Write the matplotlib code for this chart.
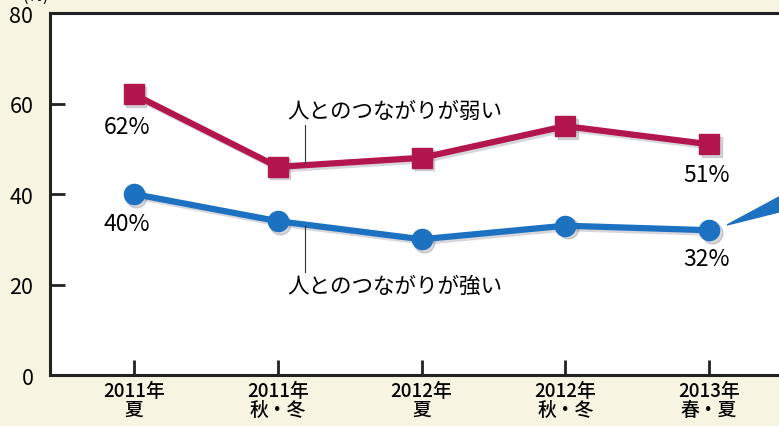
import matplotlib.pyplot as plt
import matplotlib.transforms as mtransforms
from matplotlib.patches import Polygon

plt.rcParams["font.family"] = ["Noto Sans CJK JP", "DejaVu Sans"]

periods = ["2011年\n夏", "2011年\n秋・冬", "2012年\n夏", "2012年\n秋・冬", "2013年\n春・夏"]
weak_ties = [62, 46, 48, 55, 51]
strong_ties = [40, 34, 30, 33, 32]
y_ticks = [0, 20, 40, 60, 80]

red = "#b3164c"
blue = "#1c72c1"
paper = "#f7f5e1"

fig = plt.figure(figsize=(7.79, 4.27), dpi=100, facecolor=paper)
ax = fig.add_axes([0.0642, 0.1194, 0.99, 0.8478])
ax.set_facecolor("white")

x = list(range(len(periods)))
shadow = mtransforms.offset_copy(ax.transData, fig=fig, x=2.5, y=-2.5, units="dots")

# soft drop shadows under both series
for vals, mk in [(weak_ties, "s"), (strong_ties, "o")]:
    ax.plot(x, vals, color="#8a8a9a", lw=4.5, marker=mk, ms=15, alpha=0.35,
            transform=shadow, zorder=2, solid_capstyle="round")

ax.plot(x, weak_ties, color=red, lw=4.5, marker="s", ms=15, zorder=3)
ax.plot(x, strong_ties, color=blue, lw=4.5, marker="o", ms=14.5, zorder=3)

ax.set_xlim(-0.584, 4.78)
ax.set_ylim(0, 80)
ax.set_xticks(x)
ax.set_xticklabels(periods, fontsize=13.5, linespacing=1.0, fontweight="medium")
ax.set_yticks(y_ticks)
ax.set_yticklabels([str(v) for v in y_ticks], fontsize=15.5)
ax.tick_params(axis="both", direction="in", length=11, width=2, color="#222222")
ax.tick_params(axis="x", pad=4)
ax.tick_params(axis="y", pad=12)
for side in ["left", "bottom", "top"]:
    ax.spines[side].set_linewidth(2.2)
    ax.spines[side].set_color("#222222")
ax.spines["right"].set_visible(False)

# value labels at the first and last points
ax.text(x[0] - 0.05, weak_ties[0] - 7.0, f"{weak_ties[0]}%", fontsize=16.5, ha="center", va="center")
ax.text(x[0] - 0.05, strong_ties[0] - 6.5, f"{strong_ties[0]}%", fontsize=16.5, ha="center", va="center")
ax.text(x[-1] - 0.02, weak_ties[-1] - 6.7, f"{weak_ties[-1]}%", fontsize=16.5, ha="center", va="center")
ax.text(x[-1] - 0.02, strong_ties[-1] - 6.3, f"{strong_ties[-1]}%", fontsize=16.5, ha="center", va="center")

# series names with leader lines
lx = 1.19
ax.text(1.816, 58.3, "人とのつながりが弱い", fontsize=15.5, ha="center", va="center")
ax.plot([lx, lx], [55.2, 46.8], color="#333333", lw=0.8, zorder=4)
ax.text(1.816, 19.7, "人とのつながりが強い", fontsize=15.5, ha="center", va="center")
ax.plot([lx, lx], [33.0, 22.8], color="#333333", lw=0.8, zorder=4)

# unit label sits at the very top edge of the page
ax.text(-0.68, 84.0, "(%)", fontsize=12, ha="center", va="center", clip_on=False)

# callout pointer running off to the right
fig.patches.append(Polygon([(727 / 779, 1 - 226 / 427), (1.0, 1 - 198 / 427), (1.0, 1 - 213 / 427)],
                           closed=True, transform=fig.transFigure, color=blue, zorder=5))

fig.savefig("out.png", dpi=100, facecolor=paper)
